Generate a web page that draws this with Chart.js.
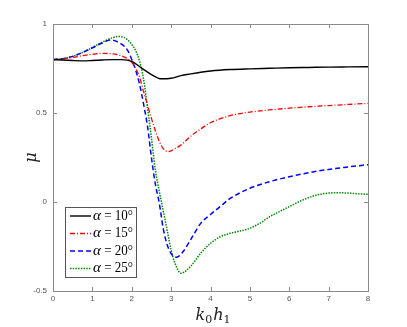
<!DOCTYPE html>
<html>
<head>
<meta charset="utf-8">
<script src="https://cdn.jsdelivr.net/npm/chart.js@4.4.1/dist/chart.umd.min.js"></script>
<style>
  html, body { margin: 0; padding: 0; background: #fff; }
  #wrap { width: 407px; height: 327px; }
</style>
</head>
<body>
<div id="wrap"><canvas id="muChart" width="407" height="327"></canvas></div>
<script>
// k0h1 values and mu for each angle
const x10 = [0, 0.25, 0.5, 0.75, 1, 1.25, 1.5, 1.75, 2, 2.25, 2.5, 2.75, 3, 3.25, 3.5, 3.75, 4, 4.5, 5, 5.5, 6, 6.5, 7, 7.5, 8];
const mu10 = [0.80, 0.798, 0.795, 0.793, 0.795, 0.798, 0.80, 0.80, 0.79, 0.752, 0.716, 0.692, 0.695, 0.71, 0.72, 0.729, 0.736, 0.744, 0.748, 0.751, 0.754, 0.756, 0.758, 0.759, 0.76];

const x15 = [0, 0.25, 0.5, 0.75, 1, 1.25, 1.5, 1.75, 2, 2.1, 2.2, 2.3, 2.4, 2.5, 2.6, 2.7, 2.8, 2.93, 3.1, 3.25, 3.5, 3.75, 4, 4.5, 5, 5.5, 6, 6.5, 7, 7.5, 8];
const mu15 = [0.80, 0.805, 0.812, 0.822, 0.83, 0.835, 0.833, 0.82, 0.785, 0.75, 0.70, 0.62, 0.545, 0.47, 0.40, 0.34, 0.30, 0.283, 0.30, 0.32, 0.37, 0.41, 0.445, 0.485, 0.505, 0.517, 0.527, 0.535, 0.542, 0.548, 0.554];

const x20 = [0, 0.25, 0.5, 0.75, 1, 1.25, 1.45, 1.75, 1.9, 2, 2.1, 2.2, 2.3, 2.4, 2.5, 2.6, 2.7, 2.8, 2.9, 3, 3.14, 3.3, 3.5, 3.75, 4, 4.25, 4.5, 5, 5.5, 6, 6.5, 7, 7.5, 8];
const mu20 = [0.80, 0.805, 0.818, 0.84, 0.866, 0.893, 0.91, 0.885, 0.85, 0.80, 0.74, 0.66, 0.55, 0.425, 0.25, 0.10, -0.007, -0.15, -0.24, -0.29, -0.31, -0.28, -0.21, -0.12, -0.07, -0.025, 0.02, 0.077, 0.114, 0.142, 0.165, 0.183, 0.197, 0.21];

const x25 = [0, 0.25, 0.5, 0.75, 1, 1.25, 1.5, 1.65, 1.8, 1.9, 2, 2.1, 2.2, 2.3, 2.4, 2.5, 2.6, 2.7, 2.8, 2.9, 3, 3.1, 3.25, 3.5, 3.75, 4, 4.25, 4.5, 4.75, 5, 5.25, 5.5, 5.75, 6, 6.25, 6.5, 6.75, 7, 7.25, 7.5, 7.75, 8];
const mu25 = [0.80, 0.805, 0.818, 0.84, 0.868, 0.898, 0.922, 0.93, 0.925, 0.91, 0.885, 0.85, 0.79, 0.69, 0.53, 0.36, 0.18, 0.06, -0.05, -0.16, -0.27, -0.345, -0.40, -0.36, -0.288, -0.232, -0.195, -0.176, -0.163, -0.148, -0.12, -0.083, -0.054, -0.026, 0.002, 0.025, 0.042, 0.05, 0.052, 0.05, 0.046, 0.043];

const legendLabels = ['10°', '15°', '20°', '25°'];
const xTicks = [0, 1, 2, 3, 4, 5, 6, 7, 8];
const yTicks = [-0.5, 0, 0.5, 1];

function pairs(xs, ys) {
    return xs.map((x, i) => ({x: x, y: ys[i]}));
}

const axisGrey = '#8a8a8a';

// box + inward ticks on all four sides
const boxPlugin = {
    id: 'boxPlugin',
    afterDraw(chart) {
        const c = chart.ctx;
        const a = chart.chartArea;
        const xs = chart.scales.x, ys = chart.scales.y;
        c.save();
        c.strokeStyle = axisGrey;
        c.lineWidth = 1;
        c.strokeRect(Math.round(a.left) + 0.5, Math.round(a.top) + 0.5, Math.round(a.right - a.left), Math.round(a.bottom - a.top));
        c.beginPath();
        xTicks.forEach(v => {
            const px = Math.round(xs.getPixelForValue(v)) + 0.5;
            c.moveTo(px, a.bottom); c.lineTo(px, a.bottom - 4);
            c.moveTo(px, a.top); c.lineTo(px, a.top + 4);
        });
        yTicks.forEach(v => {
            const py = Math.round(ys.getPixelForValue(v)) + 0.5;
            c.moveTo(a.left, py); c.lineTo(a.left + 4, py);
            c.moveTo(a.right, py); c.lineTo(a.right - 4, py);
        });
        c.stroke();

        // axis labels
        c.fillStyle = '#222';
        c.textBaseline = 'alphabetic';
        c.font = 'italic 16px "DejaVu Serif"';
        const cx = (a.left + a.right) / 2;
        let tx = cx - 15;
        const ty = 320;
        c.fillText('k', tx, ty); tx += c.measureText('k').width;
        c.font = '11px "DejaVu Serif"';
        c.fillText('0', tx, ty + 3); tx += c.measureText('0').width + 1;
        c.font = 'italic 16px "DejaVu Serif"';
        c.fillText('h', tx, ty); tx += c.measureText('h').width;
        c.font = '11px "DejaVu Serif"';
        c.fillText('1', tx, ty + 3);

        c.translate(36, (a.top + a.bottom) / 2);
        c.rotate(-Math.PI / 2);
        c.font = 'italic 16px "DejaVu Serif"';
        c.textAlign = 'center';
        c.fillText('μ', 0, 0);
        c.restore();

        // legend box inside the plot
        c.save();
        const lx = 65, ly = 207, lw = 71, lh = 70;
        c.fillStyle = '#fff';
        c.fillRect(lx, ly, lw, lh);
        c.strokeStyle = '#555';
        c.lineWidth = 1;
        c.strokeRect(lx + 0.5, ly + 0.5, lw, lh);
        chart.data.datasets.forEach((ds, i) => {
            const ry = ly + 9 + i * 17.5;
            c.strokeStyle = ds.borderColor;
            c.lineWidth = ds.borderWidth;
            c.setLineDash(ds.borderDash || []);
            c.beginPath();
            c.moveTo(lx + 5, ry); c.lineTo(lx + 26, ry);
            c.stroke();
            c.setLineDash([]);
            c.fillStyle = '#000';
            c.textBaseline = 'middle';
            c.font = 'italic 15px "Liberation Serif"';
            let t = lx + 28;
            c.fillText('α', t, ry); t += c.measureText('α').width;
            c.font = '15px "Liberation Serif"';
            c.fillText(' = ' + legendLabels[i], t, ry, lx + lw - 3 - t);
        });
        c.restore();
    }
};

const ctx = document.getElementById('muChart').getContext('2d');
const muChart = new Chart(ctx, {
    type: 'line',
    data: {
        datasets: [
            {label: 'α = 10°', data: pairs(x10, mu10), borderColor: '#000000', borderWidth: 1.4, borderDash: []},
            {label: 'α = 15°', data: pairs(x15, mu15), borderColor: '#ff0000', borderWidth: 1.3, borderDash: [5, 2, 1, 2]},
            {label: 'α = 20°', data: pairs(x20, mu20), borderColor: '#0000ff', borderWidth: 1.5, borderDash: [5, 3]},
            {label: 'α = 25°', data: pairs(x25, mu25), borderColor: '#008a00', borderWidth: 1.5, borderDash: [1.5, 1.2]}
        ]
    },
    options: {
        responsive: false,
        animation: false,
        layout: {padding: {top: 24, right: 39, left: 0, bottom: 0}},
        elements: {
            point: {radius: 0},
            line: {cubicInterpolationMode: 'monotone', fill: false}
        },
        plugins: {
            legend: {display: false},
            tooltip: {enabled: false}
        },
        scales: {
            x: {
                type: 'linear',
                min: 0, max: 8,
                afterBuildTicks: s => { s.ticks = xTicks.map(v => ({value: v})); },
                afterFit: s => { s.height = 36; },
                grid: {display: false, drawTicks: false},
                border: {display: false},
                ticks: {color: '#555', font: {size: 8, family: 'Liberation Sans'}, padding: 3,
                        callback: v => String(v)}
            },
            y: {
                type: 'linear',
                min: -0.5, max: 1,
                afterBuildTicks: s => { s.ticks = yTicks.map(v => ({value: v})); },
                afterFit: s => { s.width = 53; },
                grid: {display: false, drawTicks: false},
                border: {display: false},
                ticks: {color: '#555', font: {size: 8, family: 'Liberation Sans'}, padding: 6,
                        callback: v => String(v)}
            }
        }
    },
    plugins: [boxPlugin]
});
</script>
</body>
</html>
